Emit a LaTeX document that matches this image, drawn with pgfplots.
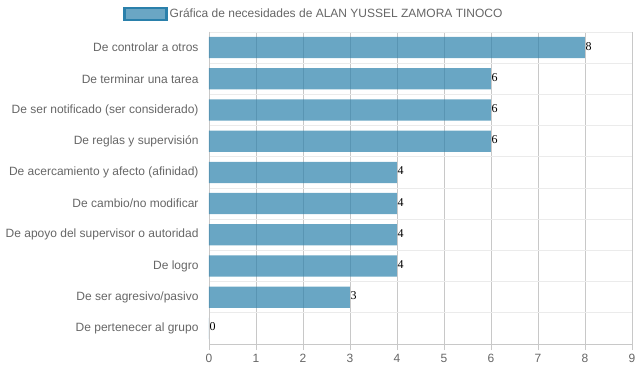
\documentclass[border=0pt]{standalone}
\usepackage{pgfplots}
\pgfplotsset{compat=1.18}
\usepackage{fontspec}
\setmainfont{Liberation Sans}
\newfontfamily\valfont{Liberation Serif}
\definecolor{basecol}{RGB}{42,128,171}
\definecolor{barcol}{RGB}{106,166,196}
\definecolor{txtgray}{RGB}{102,102,102}
\definecolor{gridgray}{RGB}{200,200,200}
\definecolor{lightgrid}{RGB}{235,235,235}
\begin{document}
\begin{tikzpicture}
\begin{axis}[
  at={(0,0)}, anchor=south west,
  scale only axis, width=423bp, height=312bp,
  xbar, bar width=0.68,
  xmin=0, xmax=9, ymin=-0.5, ymax=9.5,
  y dir=reverse,
  xtick={0,1,...,9},
  ytick={0,1,...,9},
  yticklabels={De controlar a otros, De terminar una tarea, De ser notificado (ser considerado), De reglas y supervisión, De acercamiento y afecto (afinidad), De cambio/no modificar, De apoyo del supervisor o autoridad, De logro, De ser agresivo/pasivo, De pertenecer al grupo},
  minor ytick={-0.5,0.5,...,9.5},
  xmajorgrids, yminorgrids,
  major grid style={gridgray, line width=0.8pt},
  minor grid style={lightgrid, line width=1pt},
  axis x line*=bottom, axis y line*=left,
  axis line style={gridgray, line width=0.8pt},
  x axis line style={-}, y axis line style={-},
  major tick length=6bp, minor tick length=0pt,
  xtick style={gridgray, line width=0.8pt},
  ytick style={draw=none},
  tick align=outside,
  ticklabel style={font=\fontsize{12bp}{14bp}\selectfont, text=txtgray},
  yticklabel style={xshift=-1bp},
  xticklabel style={yshift=-1bp},
  /pgf/number format/assume math mode=true,
  nodes near coords,
  nodes near coords style={font=\valfont\fontsize{12bp}{13bp}\selectfont, text=black, anchor=west, inner sep=0.5bp, yshift=1.5bp},
  legend style={draw=none, fill=none, at={(-0.2033,1.0577)}, anchor=west, inner sep=0pt, font=\fontsize{12bp}{14bp}\selectfont, text=txtgray},
  legend cell align=left,
  legend image code/.code={\draw[fill=barcol, fill opacity=1, draw=basecol, draw opacity=1, line width=2.5bp] (0bp,-6bp) rectangle (42bp,6bp);},
]
\addplot[draw=none, fill=basecol, fill opacity=0.7, text opacity=1] coordinates {
(8,0) (6,1) (6,2) (6,3) (4,4) (4,5) (4,6) (4,7) (3,8) (0,9)
};
\addlegendentry{Gráfica de necesidades de ALAN YUSSEL ZAMORA TINOCO}
\end{axis}
\pgfresetboundingbox
\path[use as bounding box] (-209bp,-28bp) rectangle (430bp,344bp);
\end{tikzpicture}
\end{document}
